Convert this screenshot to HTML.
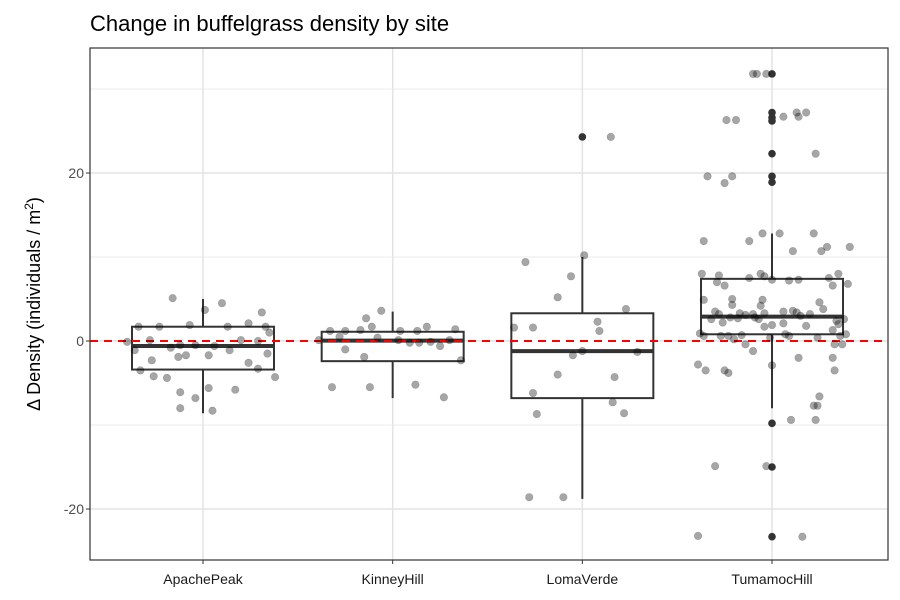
<!DOCTYPE html>
<html><head><meta charset="utf-8"><style>
body{margin:0;background:#fff;}
svg{display:block;font-family:"Liberation Sans",sans-serif;}
</style></head><body>
<svg id="chart" width="900" height="600">
<text x="90" y="31" font-size="22" fill="#000">Change in buffelgrass density by site</text>
<g id="grid"></g>
<g id="marks"></g>
<rect x="90" y="48" width="798" height="512" fill="none" stroke="#333" stroke-width="1.2"/>
<g id="axes"></g>
<text transform="translate(40,304) rotate(-90)" text-anchor="middle" font-size="18" fill="#000">Δ Density (individuals / m<tspan dy="-7" font-size="12">2</tspan><tspan dy="7">)</tspan></text>
</svg>
<script>
const categories=["ApachePeak","KinneyHill","LomaVerde","TumamocHill"];
const yTicks=[-20,0,20];
const yMinor=[-10,10,30];
const q1=[-3.4,-2.4,-6.8,0.8];
const medians=[-0.6,0.05,-1.2,2.9];
const q3=[1.7,1.1,3.3,7.4];
const whiskLo=[-8.6,-6.8,-18.8,-8];
const whiskHi=[5,3.5,10,12.8];
const outliers=[[],[],[24.3],[31.8,27.2,26.6,26.2,22.3,19.6,18.9,-9.8,-15,-23.3]];
const ptsApache=[[-0.16,5.1],[0.1,4.5],[0.01,3.7],[0.31,3.4],[-0.34,1.7],[-0.23,1.7],[-0.07,1.9],[0.13,1.7],[0.24,2.1],[0.33,1.7],[0.35,1],[-0.4,-0.1],[-0.28,0.1],[-0.12,-0.5],[-0.04,-0.5],[0.06,-0.6],[0.2,0.1],[0.29,0],[-0.36,-1.1],[-0.17,-0.8],[-0.09,-1.7],[0.03,-1.7],[0.14,-1.1],[0.34,-1.5],[-0.27,-2.3],[-0.13,-1.9],[0.24,-2.6],[-0.33,-3.5],[-0.26,-4.2],[-0.19,-4.4],[0.38,-4.3],[0.29,-3.3],[0.03,-5.6],[0.17,-5.8],[-0.12,-6.1],[-0.04,-6.8],[0.05,-8.3],[-0.12,-8]];
const ptsKinney=[[-0.06,3.6],[-0.14,2.7],[-0.33,1.2],[-0.25,1.2],[-0.17,1.3],[-0.11,1.7],[0.04,1.2],[0.13,1.2],[0.18,1.7],[0.33,1.4],[-0.28,0.5],[-0.39,0.1],[0.3,0.1],[0.09,-0.2],[0.14,-0.2],[-0.25,-1],[0.25,-0.6],[0.2,-0.1],[-0.15,-1.9],[0.36,-2.3],[-0.32,-5.5],[-0.12,-5.5],[0.12,-5.2],[0.27,-6.7],[0.03,0.1],[-0.08,0.4]];
const ptsLoma=[[0.15,24.3],[-0.3,9.4],[0.01,10.2],[-0.06,7.7],[-0.13,5.2],[0.08,2.3],[0.23,3.8],[-0.36,1.6],[-0.26,1.6],[0.09,1.2],[-0.05,-1.7],[0.29,-1.3],[-0.13,-4],[0.17,-4.3],[-0.26,-6.2],[0.16,-7.3],[-0.24,-8.7],[0.22,-8.6],[-0.28,-18.6],[-0.1,-18.6],[0,-1.2]];
const ptsTumamoc=[[-0.1,31.8],[-0.08,31.8],[-0.03,31.8],[0.06,26.7],[0.13,27.2],[0.14,26.7],[0.18,27.2],[-0.24,26.3],[-0.19,26.3],[0.23,22.3],[-0.34,19.6],[-0.21,19.6],[-0.25,18.8],[-0.36,11.9],[-0.12,11.9],[-0.05,12.8],[0.04,12.8],[0.22,12.8],[0.11,10.7],[0.26,10.7],[0.29,11.2],[0.41,11.2],
[-0.37,8],[-0.28,7.8],[-0.29,7],[-0.25,6.6],[-0.12,7.5],[-0.06,8],[-0.04,7.7],[0,7.3],[0.09,7.2],[0.14,7.3],[0.3,7.5],[0.32,6.6],[0.35,8],[0.4,6.8],[-0.36,4.9],[-0.21,5],[-0.21,4.3],[-0.06,4.2],[-0.05,4.9],[-0.3,3.5],[-0.28,3.2],[-0.22,2.8],[-0.17,3.3],[-0.14,3.1],[-0.1,3.2],[-0.09,2.8],[-0.04,3.3],[0.06,3.5],[0.11,3.6],[0.13,3.4],[0.15,3],[0.2,3.2],[0.25,4.6],[0.27,3.8],[0.34,2.4],[0.38,2.6],[-0.32,2.6],[-0.26,2.2],[-0.18,2.7],[-0.07,2.6],[-0.04,1.7],[0,1.9],[0.06,2.1],[0.18,1.8],[-0.38,0.9],[-0.36,0.6],[-0.27,0.6],[-0.23,0.6],[-0.16,0.7],[0.07,0.8],[0.09,0.6],[0.24,0.4],[0.36,0.6],[0.39,0.8],[-0.01,0.4],[0.32,1.3],[0.35,2],[-0.2,0.2],
[-0.14,-0.4],[-0.1,-1.2],[-0.39,-2.8],[-0.35,-3.5],[-0.25,-3.5],[-0.23,-3.8],[0,-2.9],[0.14,-2],[0.32,-2],[0.33,-3.5],[0.37,-0.4],[0.33,-0.4],[0.25,-6.6],[0.22,-7.7],[0.24,-7.7],[0.1,-9.4],[0.23,-9.4],[-0.3,-14.9],[-0.03,-14.9],[-0.39,-23.2],[0.16,-23.3]];
const points=[ptsApache,ptsKinney,ptsLoma,ptsTumamoc];

const NS="http://www.w3.org/2000/svg";
const y=v=>341-v*8.4;
const x=i=>203+i*189.67;
const half=71;
function mk(tag,attrs,parent){const e=document.createElementNS(NS,tag);for(const k in attrs)e.setAttribute(k,attrs[k]);parent.appendChild(e);return e;}
const grid=document.getElementById('grid'),marks=document.getElementById('marks'),axes=document.getElementById('axes');
yMinor.forEach(v=>{const l=mk('line',{x1:90,x2:888,y1:y(v),y2:y(v),stroke:'#ebebeb','stroke-width':1},grid);

});
yTicks.forEach(v=>{const l=mk('line',{x1:90,x2:888,y1:y(v),y2:y(v),stroke:'#e3e3e3','stroke-width':1.5},grid);


const t=mk('text',{x:84,y:y(v)+5,'text-anchor':'end','font-size':14,fill:'#4d4d4d'},axes);t.textContent=v;


mk('line',{x1:86,x2:90,y1:y(v),y2:y(v),stroke:'#333'},axes);});
categories.forEach((c,i)=>{const l=mk('line',{x1:x(i),x2:x(i),y1:48,y2:560,stroke:'#e3e3e3','stroke-width':1.5},grid);


mk('line',{x1:x(i),x2:x(i),y1:560,y2:564,stroke:'#333'},axes);
const t=mk('text',{x:x(i),y:584,'text-anchor':'middle','font-size':14,fill:'#1a1a1a'},axes);t.textContent=c;

});
categories.forEach((c,i)=>{
const g=mk('g',{},marks);


mk('line',{x1:x(i),x2:x(i),y1:y(q3[i]),y2:y(whiskHi[i]),stroke:'#333','stroke-width':2},g);
mk('line',{x1:x(i),x2:x(i),y1:y(q1[i]),y2:y(whiskLo[i]),stroke:'#333','stroke-width':2},g);
mk('rect',{x:x(i)-half,y:y(q3[i]),width:half*2,height:y(q1[i])-y(q3[i]),fill:'#fff',stroke:'#333','stroke-width':2},g);
mk('line',{x1:x(i)-half,x2:x(i)+half,y1:y(medians[i]),y2:y(medians[i]),stroke:'#333','stroke-width':4},g);
outliers[i].forEach(v=>{const o=mk('circle',{cx:x(i),cy:y(v),r:3.8,fill:'#333'},g);

});
});
const ref=mk('line',{x1:90,x2:888,y1:y(0),y2:y(0),stroke:'#ff0000','stroke-width':2,'stroke-dasharray':'8,6'},marks);


points.forEach((arr,i)=>arr.forEach(p=>{const c=mk('circle',{cx:x(i)+p[0]*189.67,cy:y(p[1]),r:3.8,fill:'rgba(0,0,0,0.35)',stroke:'rgba(0,0,0,0.2)','stroke-width':0.6},marks);

}));
</script>
</body></html>
